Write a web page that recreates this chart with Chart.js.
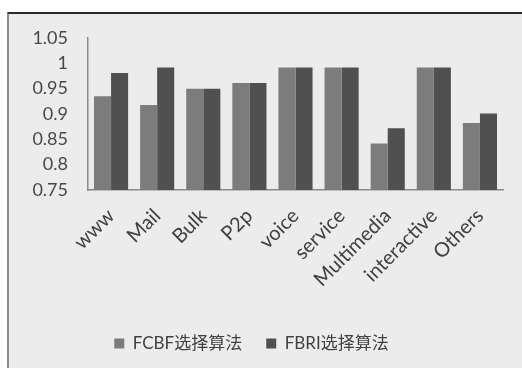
<!DOCTYPE html>
<html>
<head>
<meta charset="utf-8">
<script src="https://cdn.jsdelivr.net/npm/chart.js@4"></script>
<style>
  html, body { margin: 0; padding: 0; background: #fff; }
  #frame {
    position: absolute; left: 7px; top: 12px; width: 515px; height: 356px;
    background: #ececec; border-top: 2px solid #2a2a2a; border-left: 2px solid #8a8a8a;
    box-sizing: border-box;
  }
  #wrap { position: absolute; left: 0; top: 0; width: 522px; height: 368px; }
</style>
</head>
<body>
<div id="frame"></div>
<div id="wrap"><canvas id="chart"></canvas></div>
<script>
// 각 트래픽 종류별 정확도
var categories = ['www', 'Mail', 'Bulk', 'P2p', 'voice', 'service', 'Multimedia', 'interactive', 'Others'];
var fcbfValues = [0.935, 0.918, 0.950, 0.961, 0.992, 0.992, 0.842, 0.992, 0.882];
var fbriValues = [0.981, 0.992, 0.950, 0.961, 0.992, 0.992, 0.872, 0.992, 0.901];
var seriesNames = ['FCBF选择算法', 'FBRI选择算法'];
var yTicks = [0.75, 0.8, 0.85, 0.9, 0.95, 1, 1.05];

var fontFamily = "Lato, 'Noto Sans CJK SC', sans-serif";

new Chart(document.getElementById('chart').getContext('2d'), {
    type: 'bar',
    data: {
        labels: categories,
        datasets: [{
            label: seriesNames[0],
            data: fcbfValues,
            backgroundColor: '#7c7c7c',
            categoryPercentage: 0.74,
            barPercentage: 1
        }, {
            label: seriesNames[1],
            data: fbriValues,
            backgroundColor: '#505050',
            categoryPercentage: 0.74,
            barPercentage: 1
        }]
    },
    options: {
        responsive: true,
        maintainAspectRatio: false,
        animation: false,
        layout: {padding: {top: 38, right: 19, bottom: 6, left: 0}},
        plugins: {
            tooltip: {enabled: false},
            legend: {
                position: 'bottom',
                labels: {
                    boxWidth: 10, boxHeight: 10, padding: 24,
                    color: '#404040',
                    font: {family: fontFamily, size: 17}
                }
            }
        },
        scales: {
            x: {
                grid: {display: false, drawTicks: false},
                border: {color: '#8a8a8a', width: 1.5},
                ticks: {
                    color: '#404040', maxRotation: 45, minRotation: 45, padding: 14,
                    autoSkip: false,
                    font: {family: fontFamily, size: 20}
                },
                afterFit: function (scale) { scale.height = 121; }
            },
            y: {
                min: 0.75, max: 1.05,
                grid: {display: false, drawTicks: false},
                border: {color: '#8a8a8a', width: 1.5},
                afterBuildTicks: function (scale) {
                    scale.ticks = yTicks.map(function (v) { return {value: v}; });
                },
                ticks: {
                    color: '#484848', padding: 20, autoSkip: false,
                    font: {family: fontFamily, size: 18},
                    callback: function (v) { return String(+Number(v).toFixed(2)); }
                },
                afterFit: function (scale) { scale.width = 88; }
            }
        }
    }
});
</script>
</body>
</html>
